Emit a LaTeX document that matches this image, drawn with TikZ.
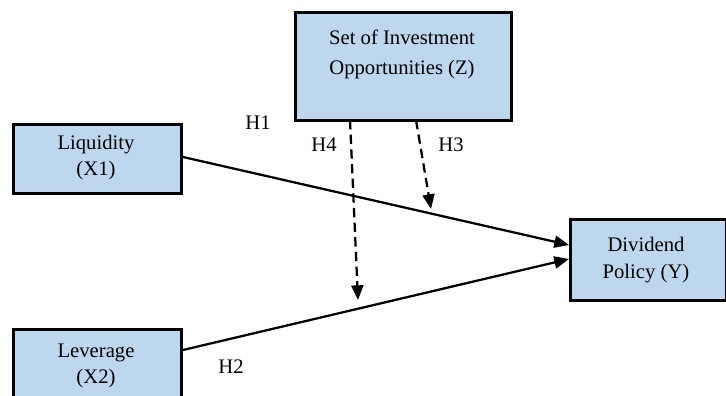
\documentclass[tikz,border=0pt]{standalone}
\usepackage{fontspec}
\setmainfont{Liberation Serif}
\usetikzlibrary{arrows.meta}
\definecolor{boxblue}{RGB}{189,215,238}
\tikzset{
  varbox/.style={draw=black, line width=2.2pt, fill=boxblue, inner sep=0pt, align=center, font=\fontsize{15.5}{19.5}\selectfont},
  vtext/.style={align=center, font=\fontsize{15.5}{19.5}\selectfont, inner sep=0pt},
  hlabel/.style={font=\fontsize{15.5}{18}\selectfont, inner sep=0pt},
  conn/.style={line width=1.7pt, -{Triangle[length=11pt,width=9pt]}},
  dconn/.style={line width=1.7pt, dash pattern=on 7pt off 4pt, -{Triangle[length=11pt,width=9pt]}}
}
\begin{document}
\begin{tikzpicture}[x=0.75pt,y=-0.75pt]
\useasboundingbox (0,0) rectangle (726,396);
\clip (0,0) rectangle (726,396);
\node[varbox, minimum width=126pt, minimum height=52pt, anchor=north west] (liq) at (12,123) {};
\node[vtext] (liqt) at (96,158) {Liquidity\\(X1)};
\node[varbox, minimum width=126pt, minimum height=60pt, anchor=north west] (lev) at (12,328) {};
\node[vtext] (levt) at (96,366) {Leverage\\(X2)};
\node[varbox, minimum width=162pt, minimum height=81pt, anchor=north west] (ios) at (294,11) {};
\node[vtext, font=\fontsize{15.5}{22.5}\selectfont] (iost) at (402,54) {Set of Investment\\Opportunities (Z)};
\node[varbox, minimum width=117pt, minimum height=61pt, anchor=north west] (div) at (569,218) {};
\node[vtext, font=\fontsize{15.5}{20.5}\selectfont] (divt) at (646,260) {Dividend\\Policy (Y)};
\coordinate (d1) at (569,245);
\coordinate (d2) at (569,259);
\draw[conn] (liq.east |- 0,157) -- (d1);
\draw[conn] (lev.east |- 0,350) -- (d2);
\coordinate (h4s) at (350,120);
\coordinate (h4e) at (358,300);
\coordinate (h3s) at (416,120);
\coordinate (h3e) at (431,209);
\draw[dconn] (h4s) -- (h4e);
\draw[dconn] (h3s) -- (h3e);
\node[hlabel] (H1) at (258,123) {H1};
\node[hlabel] (H4) at (324,145) {H4};
\node[hlabel] (H3) at (451,145) {H3};
\node[hlabel] (H2) at (231,367) {H2};
\end{tikzpicture}
\end{document}
